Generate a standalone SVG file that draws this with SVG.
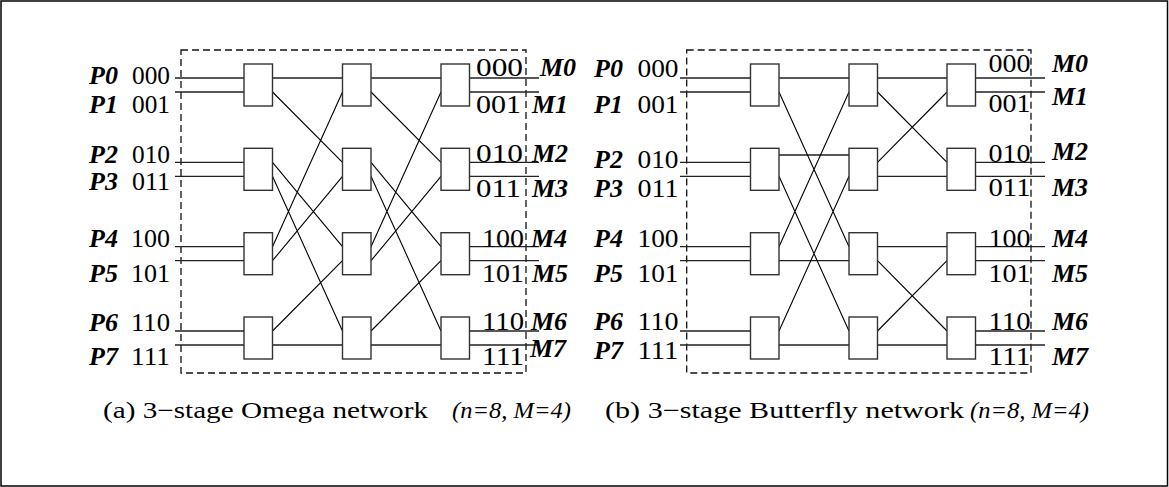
<svg xmlns="http://www.w3.org/2000/svg" width="1169" height="487" viewBox="0 0 1169 487">
<style>
.frame{fill:none;stroke:#000;stroke-width:1.5}
.dash{fill:none;stroke:#111;stroke-width:1.3;stroke-dasharray:7 4}
.sw{fill:#fff;stroke:#333;stroke-width:1.4}
.h{stroke:#222;stroke-width:1.3;fill:none}
.x{stroke:#000;stroke-width:1.1;fill:none}
.p{font-family:"Liberation Serif","Times New Roman",serif;font-size:26px;font-weight:bold;font-style:italic;fill:#000}
.d{font-family:"Liberation Serif","Times New Roman",serif;font-size:26px;fill:#000}
.c{font-family:"Liberation Serif","Times New Roman",serif;font-size:23px;fill:#000}
.ci{font-family:"Liberation Serif","Times New Roman",serif;font-size:23px;font-style:italic;fill:#000}
</style>
<rect x="0" y="0" width="1169" height="487" fill="#fff"/>
<rect class="frame" x="1" y="1" width="1166.5" height="485"/>

<!-- dashed enclosures -->
<rect class="dash" x="181" y="50" width="345" height="323"/>
<rect class="dash" x="686.7" y="50" width="344.3" height="323"/>

<g id="connectors">
  <!-- Omega: inputs -->
  <path class="h" d="M175 78H244M175 92H244M175 162.3H244M175 176.3H244M175 246.7H244M175 260.7H244M175 331H244M175 345H244"/>
  <!-- Omega: stage1 -> stage2 (perfect shuffle) -->
  <path class="h" d="M272.5 78H342.5M272.5 345H342.5"/>
  <path class="x" d="M272.5 92L342.5 162.3M272.5 162.3L342.5 246.7M272.5 176.3L342.5 331M272.5 246.7L342.5 92M272.5 260.7L342.5 176.3M272.5 331L342.5 260.7"/>
  <!-- Omega: stage2 -> stage3 (perfect shuffle) -->
  <path class="h" d="M371 78H441M371 345H441"/>
  <path class="x" d="M371 92L441 162.3M371 162.3L441 246.7M371 176.3L441 331M371 246.7L441 92M371 260.7L441 176.3M371 331L441 260.7"/>
  <!-- Omega: outputs -->
  <path class="h" d="M469.5 78H539M469.5 92H539M469.5 162.3H539M469.5 176.3H539M469.5 246.7H539M469.5 260.7H539M469.5 331H539M469.5 345H539"/>

  <!-- Butterfly: inputs -->
  <path class="h" d="M680 78H750.5M680 92H750.5M680 162.3H750.5M680 176.3H750.5M680 246.7H750.5M680 260.7H750.5M680 331H750.5M680 345H750.5"/>
  <!-- Butterfly: stage1 -> stage2 -->
  <path class="h" d="M779 78H849M779 155H849M779 260.7H849M779 345H849"/>
  <path class="x" d="M779 92L849 246.7M779 176.3L849 331M779 246.7L849 92M779 331L849 176.3"/>
  <!-- Butterfly: stage2 -> stage3 -->
  <path class="h" d="M877.5 78H947M877.5 176.3H947M877.5 246.7H947M877.5 345H947"/>
  <path class="x" d="M877.5 92L947 162.3M877.5 162.3L947 92M877.5 260.7L947 331M877.5 331L947 260.7"/>
  <!-- Butterfly: outputs -->
  <path class="h" d="M975.5 78H1045M975.5 92H1045M975.5 162.3H1045M975.5 176.3H1045M975.5 246.7H1045M975.5 260.7H1045M975.5 331H1045M975.5 345H1045"/>
</g>

<!-- Omega switches -->
<g id="omega-s1-0"><rect class="sw" x="244" y="64" width="28.5" height="42"/></g>
<g id="omega-s1-1"><rect class="sw" x="244" y="148.3" width="28.5" height="42"/></g>
<g id="omega-s1-2"><rect class="sw" x="244" y="232.7" width="28.5" height="42"/></g>
<g id="omega-s1-3"><rect class="sw" x="244" y="317" width="28.5" height="42"/></g>
<g id="omega-s2-0"><rect class="sw" x="342.5" y="64" width="28.5" height="42"/></g>
<g id="omega-s2-1"><rect class="sw" x="342.5" y="148.3" width="28.5" height="42"/></g>
<g id="omega-s2-2"><rect class="sw" x="342.5" y="232.7" width="28.5" height="42"/></g>
<g id="omega-s2-3"><rect class="sw" x="342.5" y="317" width="28.5" height="42"/></g>
<g id="omega-s3-0"><rect class="sw" x="441" y="64" width="28.5" height="42"/></g>
<g id="omega-s3-1"><rect class="sw" x="441" y="148.3" width="28.5" height="42"/></g>
<g id="omega-s3-2"><rect class="sw" x="441" y="232.7" width="28.5" height="42"/></g>
<g id="omega-s3-3"><rect class="sw" x="441" y="317" width="28.5" height="42"/></g>

<!-- Butterfly switches -->
<g id="bfly-s1-0"><rect class="sw" x="750.5" y="64" width="28.5" height="42"/></g>
<g id="bfly-s1-1"><rect class="sw" x="750.5" y="148.3" width="28.5" height="42"/></g>
<g id="bfly-s1-2"><rect class="sw" x="750.5" y="232.7" width="28.5" height="42"/></g>
<g id="bfly-s1-3"><rect class="sw" x="750.5" y="317" width="28.5" height="42"/></g>
<g id="bfly-s2-0"><rect class="sw" x="849" y="64" width="28.5" height="42"/></g>
<g id="bfly-s2-1"><rect class="sw" x="849" y="148.3" width="28.5" height="42"/></g>
<g id="bfly-s2-2"><rect class="sw" x="849" y="232.7" width="28.5" height="42"/></g>
<g id="bfly-s2-3"><rect class="sw" x="849" y="317" width="28.5" height="42"/></g>
<g id="bfly-s3-0"><rect class="sw" x="947" y="64" width="28.5" height="42"/></g>
<g id="bfly-s3-1"><rect class="sw" x="947" y="148.3" width="28.5" height="42"/></g>
<g id="bfly-s3-2"><rect class="sw" x="947" y="232.7" width="28.5" height="42"/></g>
<g id="bfly-s3-3"><rect class="sw" x="947" y="317" width="28.5" height="42"/></g>

<!-- Omega labels -->
<g id="omega-labels">
  <text class="p" x="89" y="84.3">P0</text><text class="d" x="132" y="84.3" textLength="38" lengthAdjust="spacingAndGlyphs">000</text>
  <text class="p" x="89" y="112.7">P1</text><text class="d" x="132" y="112.7" textLength="38" lengthAdjust="spacingAndGlyphs">001</text>
  <text class="p" x="89" y="162.7">P2</text><text class="d" x="132" y="162.7" textLength="38" lengthAdjust="spacingAndGlyphs">010</text>
  <text class="p" x="89" y="190">P3</text><text class="d" x="132" y="190" textLength="38" lengthAdjust="spacingAndGlyphs">011</text>
  <text class="p" x="89" y="246.7">P4</text><text class="d" x="131" y="246.7" textLength="39" lengthAdjust="spacingAndGlyphs">100</text>
  <text class="p" x="89" y="281.7">P5</text><text class="d" x="131" y="281.7" textLength="39" lengthAdjust="spacingAndGlyphs">101</text>
  <text class="p" x="89" y="331">P6</text><text class="d" x="131" y="331" textLength="39" lengthAdjust="spacingAndGlyphs">110</text>
  <text class="p" x="89" y="365">P7</text><text class="d" x="131" y="365" textLength="39" lengthAdjust="spacingAndGlyphs">111</text>

  <text class="d" x="476" y="76" textLength="47" lengthAdjust="spacingAndGlyphs">000</text><text class="p" x="540" y="76">M0</text>
  <text class="d" x="476" y="112.7" textLength="45" lengthAdjust="spacingAndGlyphs">001</text><text class="p" x="532" y="112.7">M1</text>
  <text class="d" x="476" y="161.7" textLength="47" lengthAdjust="spacingAndGlyphs">010</text><text class="p" x="532" y="161.7">M2</text>
  <text class="d" x="476" y="196.7" textLength="45" lengthAdjust="spacingAndGlyphs">011</text><text class="p" x="532" y="196.7">M3</text>
  <text class="d" x="482" y="246.7" textLength="42" lengthAdjust="spacingAndGlyphs">100</text><text class="p" x="531" y="246.7">M4</text>
  <text class="d" x="482" y="281.7" textLength="42" lengthAdjust="spacingAndGlyphs">101</text><text class="p" x="532" y="281.7">M5</text>
  <text class="d" x="482" y="330" textLength="42" lengthAdjust="spacingAndGlyphs">110</text><text class="p" x="531" y="330">M6</text>
  <text class="d" x="482" y="365" textLength="42" lengthAdjust="spacingAndGlyphs">111</text><text class="p" x="530" y="357">M7</text>
</g>

<!-- Butterfly labels -->
<g id="bfly-labels">
  <text class="p" x="594" y="76.7">P0</text><text class="d" x="637.5" y="76.7" textLength="41" lengthAdjust="spacingAndGlyphs">000</text>
  <text class="p" x="594" y="112.7">P1</text><text class="d" x="637.5" y="112.7" textLength="41" lengthAdjust="spacingAndGlyphs">001</text>
  <text class="p" x="594" y="168.3">P2</text><text class="d" x="637.5" y="168.3" textLength="41" lengthAdjust="spacingAndGlyphs">010</text>
  <text class="p" x="594" y="196.7">P3</text><text class="d" x="637.5" y="196.7" textLength="41" lengthAdjust="spacingAndGlyphs">011</text>
  <text class="p" x="594" y="246.7">P4</text><text class="d" x="637.5" y="246.7" textLength="41" lengthAdjust="spacingAndGlyphs">100</text>
  <text class="p" x="594" y="281.7">P5</text><text class="d" x="637.5" y="281.7" textLength="41" lengthAdjust="spacingAndGlyphs">101</text>
  <text class="p" x="594" y="330">P6</text><text class="d" x="637.5" y="330" textLength="41" lengthAdjust="spacingAndGlyphs">110</text>
  <text class="p" x="594" y="358.5">P7</text><text class="d" x="637.5" y="358.5" textLength="41" lengthAdjust="spacingAndGlyphs">111</text>

  <text class="d" x="988.5" y="71.7" textLength="42" lengthAdjust="spacingAndGlyphs">000</text><text class="p" x="1052" y="71.7">M0</text>
  <text class="d" x="988.5" y="111.7" textLength="42" lengthAdjust="spacingAndGlyphs">001</text><text class="p" x="1052" y="105">M1</text>
  <text class="d" x="988.5" y="161.7" textLength="42" lengthAdjust="spacingAndGlyphs">010</text><text class="p" x="1052" y="160">M2</text>
  <text class="d" x="988.5" y="196" textLength="42" lengthAdjust="spacingAndGlyphs">011</text><text class="p" x="1052" y="196">M3</text>
  <text class="d" x="988.5" y="246.7" textLength="42" lengthAdjust="spacingAndGlyphs">100</text><text class="p" x="1052" y="246.7">M4</text>
  <text class="d" x="988.5" y="281.7" textLength="42" lengthAdjust="spacingAndGlyphs">101</text><text class="p" x="1052" y="281.7">M5</text>
  <text class="d" x="988.5" y="330" textLength="42" lengthAdjust="spacingAndGlyphs">110</text><text class="p" x="1052" y="330">M6</text>
  <text class="d" x="988.5" y="365" textLength="42" lengthAdjust="spacingAndGlyphs">111</text><text class="p" x="1052" y="365">M7</text>
</g>

<!-- captions -->
<g id="captions">
  <text class="c" x="103" y="418" textLength="325" lengthAdjust="spacingAndGlyphs">(a) 3−stage Omega network</text>
  <text class="ci" x="452" y="418" textLength="119" lengthAdjust="spacingAndGlyphs">(n=8, M=4)</text>
  <text class="c" x="605" y="418" textLength="359" lengthAdjust="spacingAndGlyphs">(b) 3−stage Butterfly network</text>
  <text class="ci" x="970" y="418" textLength="119" lengthAdjust="spacingAndGlyphs">(n=8, M=4)</text>
</g>
</svg>
